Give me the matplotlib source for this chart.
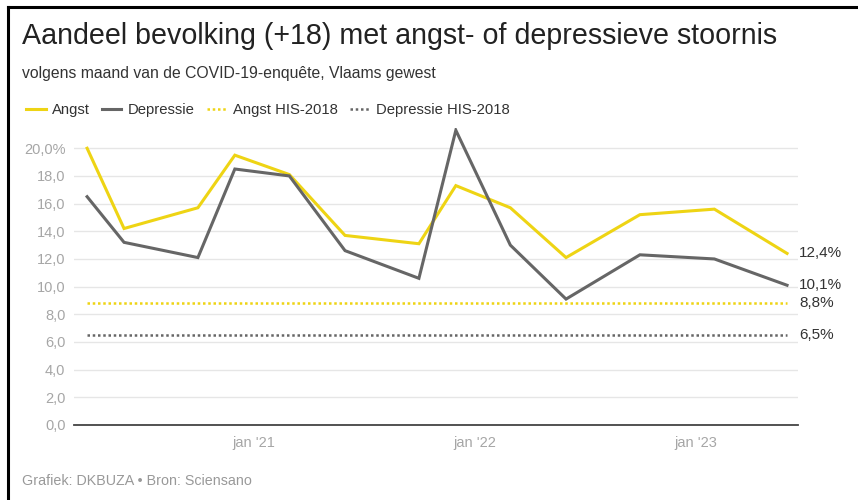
import matplotlib
matplotlib.use('Agg')
import matplotlib.pyplot as plt
import matplotlib.dates as mdates
from datetime import date
from matplotlib.lines import Line2D

plt.rcParams['font.family'] = ['Liberation Sans', 'DejaVu Sans']

# survey rounds (month of the COVID-19 health survey)
rondes = [date(2020, 4, 1), date(2020, 6, 1), date(2020, 10, 1), date(2020, 12, 1),
          date(2021, 3, 1), date(2021, 6, 1), date(2021, 10, 1), date(2021, 12, 1),
          date(2022, 3, 1), date(2022, 6, 1), date(2022, 10, 1), date(2023, 2, 1),
          date(2023, 6, 1)]
angst = [20.0, 14.2, 15.7, 19.5, 18.1, 13.7, 13.1, 17.3, 15.7, 12.1, 15.2, 15.6, 12.4]
depressie = [16.5, 13.2, 12.1, 18.5, 18.0, 12.6, 10.6, 21.3, 13.0, 9.1, 12.3, 12.0, 10.1]
angst_his = 8.8
depressie_his = 6.5

xticks = [date(2021, 1, 1), date(2022, 1, 1), date(2023, 1, 1)]
xtick_labels = ["jan '21", "jan '22", "jan '23"]
yticks = [0, 2, 4, 6, 8, 10, 12, 14, 16, 18, 20]

geel = '#eed414'
grijs = '#666666'
stip = (0, (1, 1.1))

fig = plt.figure(figsize=(8.58, 5.0), dpi=100)
ax = fig.add_axes([0.086, 0.15, 0.844, 0.595])

ax.plot(rondes, angst, color=geel, lw=2.2, solid_joinstyle='miter', zorder=3)
ax.plot(rondes, depressie, color=grijs, lw=2.2, solid_joinstyle='miter', zorder=3)
ax.plot([rondes[0], rondes[-1]], [angst_his] * 2, color=geel, lw=1.8, ls=stip, zorder=2)
ax.plot([rondes[0], rondes[-1]], [depressie_his] * 2, color=grijs, lw=1.8, ls=stip, zorder=2)

ax.set_xlim(date(2020, 3, 10), date(2023, 6, 19))
ax.set_ylim(0, 21.5)

ax.set_yticks(yticks)
ax.set_yticklabels([f'{v:.1f}'.replace('.', ',') + ('%' if v == 20 else '') for v in yticks])
ax.set_xticks(xticks)
ax.set_xticklabels(xtick_labels)
ax.tick_params(axis='both', length=0, labelsize=10.5, labelcolor='#a6a6a6')
ax.tick_params(axis='y', pad=6)
ax.tick_params(axis='x', pad=8)

ax.grid(axis='y', color='#e6e6e6', lw=1)
ax.set_axisbelow(True)
for s in ['top', 'right', 'left']:
    ax.spines[s].set_visible(False)
ax.spines['bottom'].set_color('#444444')
ax.spines['bottom'].set_linewidth(1.3)

# labels at the end of each line
eind = mdates.date2num(date(2023, 6, 19)) + 2
for waarde in [angst[-1], depressie[-1], angst_his, depressie_his]:
    ax.text(eind, waarde, f'{waarde:.1f}'.replace('.', ',') + '%', fontsize=11,
            color='#333333', va='center', ha='left', clip_on=False)

fig.text(0.0256, 0.928, 'Aandeel bevolking (+18) met angst- of depressieve stoornis',
         fontsize=20.6, color='#222222', va='center', ha='left')
fig.text(0.0256, 0.853, 'volgens maand van de COVID-19-enquête, Vlaams gewest',
         fontsize=11.3, color='#333333', va='center', ha='left')
fig.text(0.0256, 0.038, 'Grafiek: DKBUZA • Bron: Sciensano',
         fontsize=10.3, color='#999999', va='center', ha='left')

handles = [Line2D([], [], color=geel, lw=2.2),
           Line2D([], [], color=grijs, lw=2.2),
           Line2D([], [], color=geel, lw=1.8, ls=stip),
           Line2D([], [], color=grijs, lw=1.8, ls=stip)]
fig.legend(handles, ['Angst', 'Depressie', 'Angst HIS-2018', 'Depressie HIS-2018'],
           loc='center left', bbox_to_anchor=(0.015, 0.78), ncol=4, frameon=False,
           fontsize=10.7, handlelength=1.3, handletextpad=0.45, columnspacing=0.8,
           labelcolor='#333333')

# frame lines along the top and left edge
fig.add_artist(Line2D([0.0099, 1.0], [0.986, 0.986], color='black', lw=2.2,
                      transform=fig.transFigure))
fig.add_artist(Line2D([0.0099, 0.0099], [0.0, 0.986], color='black', lw=2.2,
                      transform=fig.transFigure))

fig.savefig('out.png', dpi=100, facecolor='white')
